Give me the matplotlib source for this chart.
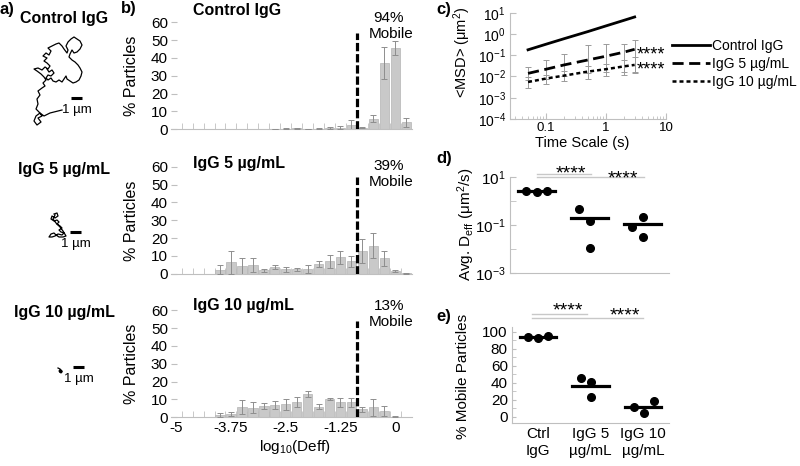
import numpy as np
import matplotlib
matplotlib.use("Agg")
import matplotlib.pyplot as plt
from matplotlib.ticker import FixedLocator, NullFormatter, LogLocator

plt.rcParams['font.family'] = ['Liberation Sans', 'DejaVu Sans']
plt.rcParams['mathtext.fontset'] = 'custom'
plt.rcParams['mathtext.rm'] = 'Liberation Sans'
plt.rcParams['mathtext.it'] = 'Liberation Sans:italic'
plt.rcParams['mathtext.bf'] = 'Liberation Sans:bold'

W, H = 800, 466
GRAY = '#bfbfbf'

# === DATA ===
# a) example trajectories (digitised, 11 px per um in the original)
PX_UM = 11.0
ctrl_track_x = [62, 50, 44, 40, 36, 34, 37, 41, 38, 42, 39, 36, 38, 37, 40, 38, 42, 45, 43, 46, 44, 41, 37, 34,
                38, 42, 45, 48, 50, 47, 44, 47, 43, 46, 49, 51, 48, 52, 56, 59, 62, 64, 67, 68, 66, 68, 71, 74,
                77, 80, 82, 80, 77, 74, 72, 70, 69, 72, 75, 78, 80, 82, 81, 79, 76, 73, 70, 67, 66, 64, 62, 59,
                56, 53, 51, 48, 46, 48, 51, 54, 52, 49, 47]
ctrl_track_y = [110, 113, 116, 113, 116, 121, 125, 122, 118, 116, 112, 109, 104, 99, 95, 91, 88, 86, 83, 80, 77,
                74, 71, 69, 68, 70, 67, 69, 66, 63, 61, 58, 56, 53, 55, 51, 48, 46, 44, 43, 46, 49, 53, 50, 46,
                42, 39, 37, 39, 41, 45, 49, 52, 53, 50, 54, 57, 60, 62, 65, 68, 72, 76, 80, 82, 83, 81, 79, 76,
                79, 82, 80, 82, 81, 78, 80, 78, 75, 76, 73, 70, 72, 69]
igg5_track_x = [54, 57, 58, 55, 52, 51, 54, 57, 59, 57, 60, 62, 59, 61, 64, 62, 58, 55, 52, 49, 51, 54, 56, 59,
                63, 66, 63, 60, 56, 53, 55]
igg5_track_y = [214, 213, 216, 218, 216, 219, 221, 220, 222, 224, 226, 228, 230, 232, 233, 235, 234, 236, 237,
                237, 234, 233, 235, 237, 237, 236, 231, 227, 223, 219, 215]
igg10_track_x = [58, 60, 62, 61, 59, 60, 62, 60]
igg10_track_y = [368, 369, 371, 373, 371, 370, 372, 372]
groups_a = ['Control IgG', 'IgG 5 µg/mL', 'IgG 10 µg/mL']

# b) distribution of log10(Deff), 0.25 wide bins (bin centre, % particles, error)
ctrl_bin = [-2.75, -2.5, -2.25, -2.0, -1.75, -1.5, -1.25, -1.0, -0.75, -0.5, -0.25, 0.0, 0.25]
ctrl_pct = [0.2, 0.4, 0.6, 0.1, 0.3, 0.8, 1.0, 2.5, 1.0, 6.0, 37.0, 45.5, 4.0]
ctrl_err = [0.2, 0.3, 0.3, 0.1, 0.2, 0.4, 0.6, 2.7, 0.4, 1.8, 9.0, 3.8, 2.5]
igg5_bin = [-4.0, -3.75, -3.5, -3.25, -3.0, -2.75, -2.5, -2.25, -2.0, -1.75, -1.5, -1.25, -1.0, -0.75, -0.5,
            -0.25, 0.0, 0.25]
igg5_pct = [2.2, 6.5, 4.1, 5.0, 1.9, 3.7, 2.4, 2.4, 2.4, 5.6, 6.9, 9.3, 6.9, 12.6, 15.7, 8.7, 1.5, 0.2]
igg5_err = [2.4, 6.5, 4.6, 4.0, 0.9, 1.3, 1.3, 0.7, 2.2, 1.8, 3.8, 3.7, 3.3, 6.8, 7.1, 4.3, 0.7, 0.2]
igg10_bin = [-4.0, -3.75, -3.5, -3.25, -3.0, -2.75, -2.5, -2.25, -2.0, -1.75, -1.5, -1.25, -1.0, -0.75, -0.5,
             -0.25, 0.0]
igg10_pct = [1.3, 1.9, 5.6, 5.4, 6.3, 6.9, 7.2, 8.5, 13.1, 5.9, 10.2, 8.3, 8.3, 4.4, 5.6, 3.5, 0.4]
igg10_err = [1.3, 1.2, 4.0, 2.9, 1.5, 2.4, 3.0, 3.0, 1.5, 1.5, 0.7, 2.8, 2.6, 1.3, 4.6, 2.8, 0.3]
mobile_pct = ['94%', '39%', '13%']
mobile_cutoff = -0.875
hist_ticks = [-5, -3.75, -2.5, -1.25, 0]
hist_ticklabels = ['-5', '-3.75', '-2.5', '-1.25', '0']

# c) ensemble MSD vs time scale
msd_tau = [0.05, 0.1, 0.2, 0.5, 1.0, 2.0, 3.0]
msd_ctrl = [0.18, 0.33, 0.6, 1.3, 2.4, 4.4, 6.3]
msd_5 = [0.014, 0.022, 0.035, 0.06, 0.09, 0.14, 0.19]
msd_5_lo = [0.007, 0.008, 0.01, 0.014, 0.016, 0.016, 0.017]
msd_5_hi = [0.029, 0.06, 0.12, 0.3, 0.35, 0.35, 0.5]
msd_10 = [0.0055, 0.008, 0.011, 0.017, 0.022, 0.03, 0.035]
msd_10_lo = [0.003, 0.0045, 0.006, 0.008, 0.01, 0.012, 0.014]
msd_10_hi = [0.009, 0.012, 0.018, 0.03, 0.04, 0.06, 0.08]
msd_labels = ['Control IgG', 'IgG 5 µg/mL', 'IgG 10 µg/mL']

# d) average Deff per replicate, e) % mobile per replicate
conditions = ['Ctrl\nIgG', 'IgG 5\nµg/mL', 'IgG 10\nµg/mL']
deff = [[2.6, 2.5, 2.7], [0.45, 0.147, 0.0105], [0.085, 0.22, 0.032]]
mobile = [[94.1, 92.2, 94.9], [45.1, 41.2, 23.5], [11.0, 4.7, 18.8]]

# layout helpers (original picture pixels)
def fx(px):
    return px / W

def fy(py):
    return 1 - py / H

fig = plt.figure(figsize=(8, 4.66), dpi=100)

def label(px, py, s, **kw):
    fig.text(fx(px), fy(py), s, **kw)

# === a) trajectories ===
ax_a = fig.add_axes([0, 0, 120 / W, 1])
ax_a.set_xlim(0, 120 / PX_UM)
ax_a.set_ylim(H / PX_UM, 0)
ax_a.axis('off')
for tx, ty in [(ctrl_track_x, ctrl_track_y), (igg5_track_x, igg5_track_y), (igg10_track_x, igg10_track_y)]:
    ax_a.plot(np.array(tx) / PX_UM, np.array(ty) / PX_UM, color='k', lw=0.9)
# scale bars, 1 um long
for bx, by, ly in [(71, 98, 110), (70, 232, 244), (73, 367, 379)]:
    ax_a.plot([bx / PX_UM, bx / PX_UM + 1], [by / PX_UM, by / PX_UM], color='k', lw=2.2, solid_capstyle='butt')
    label(bx + 5.5, ly, '1 µm', fontsize=9.5, ha='center', va='center')
for name, ty in zip(groups_a, [23, 174, 317]):
    label(64, ty, name, fontsize=11.5, fontweight='bold', ha='center', va='baseline')
label(0, 14, 'a)', fontsize=12, fontweight='bold', va='baseline')

# === b) histograms ===
hist_rows = [(ctrl_bin, ctrl_pct, ctrl_err, 'Control IgG'),
             (igg5_bin, igg5_pct, igg5_err, 'IgG 5 µg/mL'),
             (igg10_bin, igg10_pct, igg10_err, 'IgG 10 µg/mL')]
base_px = [129.3, 273.7, 417.3]
title_px = [15, 168, 310]
pct_px = [21.7, 170, 310]
for i, (bx, by, be, title) in enumerate(hist_rows):
    ax = fig.add_axes([fx(170.7), fy(base_px[i]), 241 / W, 107 / H])
    ax.bar(bx, by, width=0.215, color='#c9c9c9', edgecolor='#b5b5b5', lw=0.5, zorder=2)
    ax.errorbar(bx, by, yerr=be, fmt='none', ecolor='#8e8e8e', elinewidth=0.7, capsize=2, capthick=0.7, zorder=3)
    ax.plot([mobile_cutoff, mobile_cutoff], [0, 54], color='k', lw=2.3, dashes=(2.6, 0.9), zorder=4)
    ax.set_xlim(-5.125, 0.375)
    ax.set_ylim(0, 60)
    for s in ['left', 'top', 'right']:
        ax.spines[s].set_visible(False)
    ax.spines['bottom'].set_color(GRAY)
    ax.set_yticks(range(0, 61, 10))
    ax.tick_params(axis='y', direction='in', length=4, color=GRAY, labelsize=11, pad=2)
    ax.set_xticks(hist_ticks)
    ax.set_xticklabels(hist_ticklabels if i == 2 else [])
    ax.xaxis.set_minor_locator(FixedLocator(np.arange(-4.875, 0.3, 0.25)))
    ax.tick_params(axis='x', which='major', length=0, labelsize=11, pad=3)
    ax.tick_params(axis='x', which='minor', direction='in', length=4, color=GRAY)
    ax.patch.set_alpha(0)
    label(132, base_px[i] - 53, '% Particles', fontsize=11.5, rotation=90, ha='center', va='center')
    label(193, title_px[i], title, fontsize=11.5, fontweight='bold', va='baseline')
    label(389, pct_px[i], mobile_pct[i], fontsize=11, ha='center', va='baseline')
    label(391, pct_px[i] + 16.5, 'Mobile', fontsize=11, ha='center', va='baseline')
label(295, 447, r'log$_{10}$(Deff)', fontsize=11, ha='center', va='center')
label(121, 13, 'b)', fontsize=12, fontweight='bold', va='baseline')

# === c) MSD ===
ax_c = fig.add_axes([fx(510), fy(119), 156 / W, 106.3 / H])
ax_c.set_xscale('log')
ax_c.set_yscale('log')
ax_c.plot(msd_tau, msd_ctrl, color='k', lw=2.0, label=msd_labels[0])
ax_c.errorbar(msd_tau, msd_5, yerr=[np.array(msd_5) - msd_5_lo, np.array(msd_5_hi) - msd_5],
              fmt='none', ecolor='#9a9a9a', elinewidth=0.7, capsize=2, capthick=0.7)
ax_c.errorbar(msd_tau, msd_10, yerr=[np.array(msd_10) - msd_10_lo, np.array(msd_10_hi) - msd_10],
              fmt='none', ecolor='#9a9a9a', elinewidth=0.7, capsize=2, capthick=0.7)
ax_c.plot(msd_tau, msd_5, color='k', lw=2.0, dashes=(4, 2), label=msd_labels[1])
ax_c.plot(msd_tau, msd_10, color='k', lw=1.8, dashes=(1.6, 1.2), label=msd_labels[2])
ax_c.set_xlim(0.025, 10)
ax_c.set_ylim(1e-4, 1e1)
ax_c.yaxis.set_major_locator(LogLocator(base=10, numticks=10))
ax_c.yaxis.set_minor_locator(FixedLocator([]))
ax_c.set_xticks([0.1, 1, 10])
ax_c.set_xticklabels(['0.1', '1', '10'])
for s in ['top', 'right']:
    ax_c.spines[s].set_visible(False)
for s in ['left', 'bottom']:
    ax_c.spines[s].set_color(GRAY)
ax_c.tick_params(which='both', direction='in', color=GRAY, labelsize=10)
ax_c.tick_params(axis='y', length=4, pad=3)
ax_c.tick_params(axis='x', which='major', length=4, pad=2, labelsize=9.5)
ax_c.tick_params(axis='x', which='minor', length=2.5)
for yv in [msd_5[-1], msd_10[-1]]:
    ax_c.annotate('****', (msd_tau[-1], yv), xytext=(1.5, -4), textcoords='offset points',
                  fontsize=13, va='center', ha='left', annotation_clip=False)
ax_c.legend(loc='center left', bbox_to_anchor=(fx(672), fy(64)), bbox_transform=fig.transFigure,
            frameon=False, fontsize=10, handlelength=2.7, handletextpad=0.2, labelspacing=0.3,
            borderpad=0, borderaxespad=0)
label(462, 52, r'<MSD> ($\mathregular{\mu m^2}$)', fontsize=10.5, rotation=90, ha='center', va='center')
label(582, 143, 'Time Scale (s)', fontsize=10.5, ha='center', va='center')
label(436, 14, 'c)', fontsize=12, fontweight='bold', va='baseline')

# === d) and e) replicate dot plots ===
offsets_d = [[-0.19, 0, 0.19], [-0.19, 0, 0], [-0.19, 0, 0]]
offsets_e = [[-0.19, 0, 0.19], [-0.19, 0, 0], [-0.17, 0.02, 0.21]]

def dot_panel(ax, values, offsets):
    for k, vals in enumerate(values):
        ax.plot(np.array(offsets[k]) + k, vals, 'o', color='k', ms=5.5, zorder=3)
        ax.plot([k - 0.35, k + 0.35], [np.mean(vals)] * 2, color='k', lw=2.3, zorder=2)
    ax.set_xlim(-0.5, 2.5)
    for s in ['top', 'right']:
        ax.spines[s].set_visible(False)
    for s in ['left', 'bottom']:
        ax.spines[s].set_color(GRAY)
    ax.tick_params(which='both', color=GRAY, labelsize=11)
    ax.tick_params(axis='x', length=0)

def sig_bar(ax, x0, x1, y, xs, ys):
    tr = ax.get_xaxis_transform()
    ax.plot([x0, x1], [y, y], color='#c8c8c8', lw=1, transform=tr, clip_on=False)
    ax.text(xs, ys, '****', fontsize=14, ha='center', va='center', transform=tr, clip_on=False)

ax_d = fig.add_axes([fx(510), fy(272.7), 159 / W, 95.4 / H])
ax_d.set_yscale('log')
dot_panel(ax_d, deff, offsets_d)
ax_d.set_ylim(1e-3, 1e1)
ax_d.set_yticks([1e-3, 1e-1, 1e1])
ax_d.yaxis.set_minor_locator(FixedLocator([1e-2, 1e0]))
ax_d.yaxis.set_minor_formatter(NullFormatter())
ax_d.tick_params(axis='y', which='both', direction='in', length=4, pad=3)
ax_d.set_xticks([])
sig_bar(ax_d, 0.0, 1.02, 1.035, 0.65, 1.04)
sig_bar(ax_d, 0.0, 2.03, 1.0, 1.63, 0.98)
label(466, 224, r'Avg. D$_{\mathregular{eff}}$ ($\mathregular{\mu m^2/s}$)', fontsize=11, rotation=90,
      ha='center', va='center')
label(436, 163, 'd)', fontsize=12, fontweight='bold', va='baseline')

ax_e = fig.add_axes([fx(512), fy(422.7), 157 / W, 96 / H])
dot_panel(ax_e, mobile, offsets_e)
ax_e.set_ylim(-7, 106)
ax_e.set_yticks(range(0, 101, 20))
ax_e.yaxis.set_minor_locator(FixedLocator(range(10, 100, 20)))
ax_e.tick_params(axis='y', which='both', direction='in', length=3, pad=3)
ax_e.set_xticks(range(3))
ax_e.set_xticklabels(conditions, fontsize=11, linespacing=1.25)
ax_e.tick_params(axis='x', pad=3)
sig_bar(ax_e, -0.12, 0.93, 1.13, 0.57, 1.16)
sig_bar(ax_e, -0.12, 2.0, 1.09, 1.66, 1.11)
label(463, 376, '% Mobile Particles', fontsize=11, rotation=90, ha='center', va='center')
label(436, 321, 'e)', fontsize=12, fontweight='bold', va='baseline')

fig.savefig('out.png', dpi=100)
